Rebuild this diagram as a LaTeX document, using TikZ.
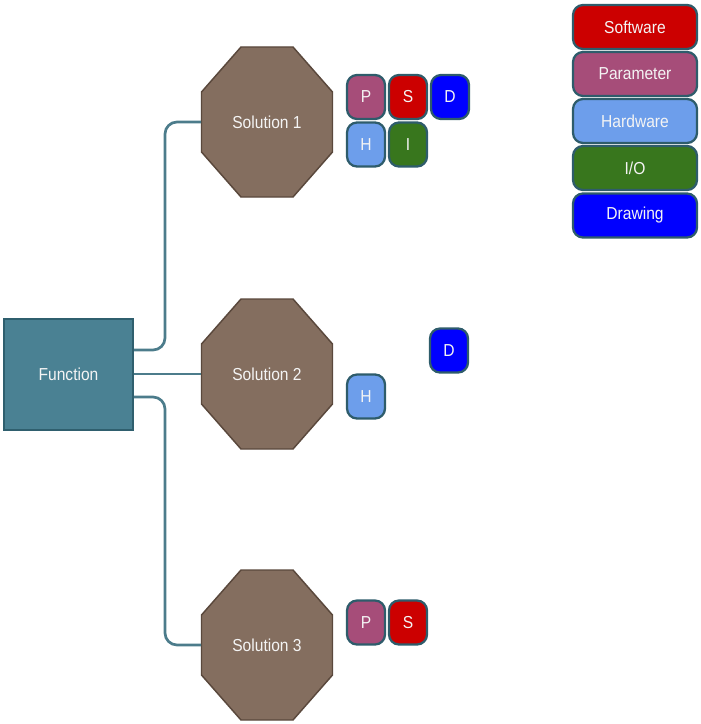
\documentclass[tikz,border=0pt]{standalone}
\usepackage{fontspec}
\setmainfont[FakeStretch=0.9]{Liberation Sans}
\usetikzlibrary{backgrounds}

\definecolor{fnfill}{HTML}{4A8193}
\definecolor{fnline}{HTML}{2F5F6E}
\definecolor{solfill}{HTML}{846E5F}
\definecolor{solline}{HTML}{5A483C}
\definecolor{wirecol}{HTML}{4C7C8B}
\definecolor{tagline}{HTML}{2E5C6B}
\definecolor{swred}{HTML}{CC0000}
\definecolor{parpink}{HTML}{A64D79}
\definecolor{hwblue}{HTML}{6D9EEB}
\definecolor{iogreen}{HTML}{38761D}
\definecolor{drblue}{HTML}{0000FF}
\definecolor{labelcol}{HTML}{F4F4F4}

\begin{document}
\begin{tikzpicture}[x=0.75pt,y=-0.75pt,
  every node/.style={text=labelcol, font=\fontsize{13}{15}\selectfont},
  func/.style={draw=fnline, line width=1.5pt, fill=fnfill,
    minimum width=129*0.75pt, minimum height=111*0.75pt, inner sep=0pt},
  soln/.style={minimum width=131*0.75pt, minimum height=150*0.75pt, inner sep=0pt},
  octa/.style={fill=solfill, draw=solline, line width=1.1pt},
  tag/.style={draw=tagline, line width=1.7pt, rounded corners=7.5pt,
    minimum width=38*0.75pt, minimum height=44*0.75pt, inner sep=0pt},
  legend/.style={tag, minimum width=124*0.75pt, minimum height=44*0.75pt},
  wire/.style={draw=wirecol, line width=2pt, rounded corners=9pt},
]
\useasboundingbox (0,0) rectangle (700,724);

% function block and the three solutions
\node[func] (f) at (68.5,374) {Function};
\node[soln] (s1) at (267,122) {Solution 1};
\node[soln] (s2) at (267,374) {Solution 2};
\node[soln] (s3) at (267,645) {Solution 3};

% octagon outlines behind the solution labels
\begin{scope}[on background layer]
  \foreach \s in {s1,s2,s3} {
    \draw[octa] ([shift={(-26,-75)}]\s.center) -- ([shift={(26,-75)}]\s.center)
      -- ([shift={(65.5,-30)}]\s.center) -- ([shift={(65.5,30)}]\s.center)
      -- ([shift={(26,75)}]\s.center) -- ([shift={(-26,75)}]\s.center)
      -- ([shift={(-65.5,30)}]\s.center) -- ([shift={(-65.5,-30)}]\s.center)
      -- cycle;
  }
\end{scope}

% connectors
\draw[wire] ([shift={(0,-24)}]f.east) -- ++(31,0) |- (s1.west);
\draw[wire] (f.east) -- (s2.west);
\draw[wire] ([shift={(0,23)}]f.east) -- ++(31,0) |- (s3.west);

% tags of solution 1
\node[tag, fill=parpink] (s1p) at (366,97) {P};
\node[tag, fill=swred]   (s1s) at (408,97) {S};
\node[tag, fill=drblue]  (s1d) at (450,97) {D};
\node[tag, fill=hwblue]  (s1h) at (366,144.5) {H};
\node[tag, fill=iogreen] (s1i) at (408,144.5) {I};

% tags of solution 2
\node[tag, fill=drblue]  (s2d) at (449,350.5) {D};
\node[tag, fill=hwblue]  (s2h) at (366,396.5) {H};

% tags of solution 3
\node[tag, fill=parpink] (s3p) at (366,622.5) {P};
\node[tag, fill=swred]   (s3s) at (408,622.5) {S};

% legend
\node[legend, fill=swred]   (lsw) at (635,27)  {Software};
\node[legend, fill=parpink] (lpa) at (635,74)  {Parameter};
\node[legend, fill=hwblue]  (lhw) at (635,121) {Hardware};
\node[legend, fill=iogreen] (lio) at (635,168) {I/O};
\node[legend, fill=drblue]  (ldr) at (635,215.5) {Drawing};
\end{tikzpicture}
\end{document}
